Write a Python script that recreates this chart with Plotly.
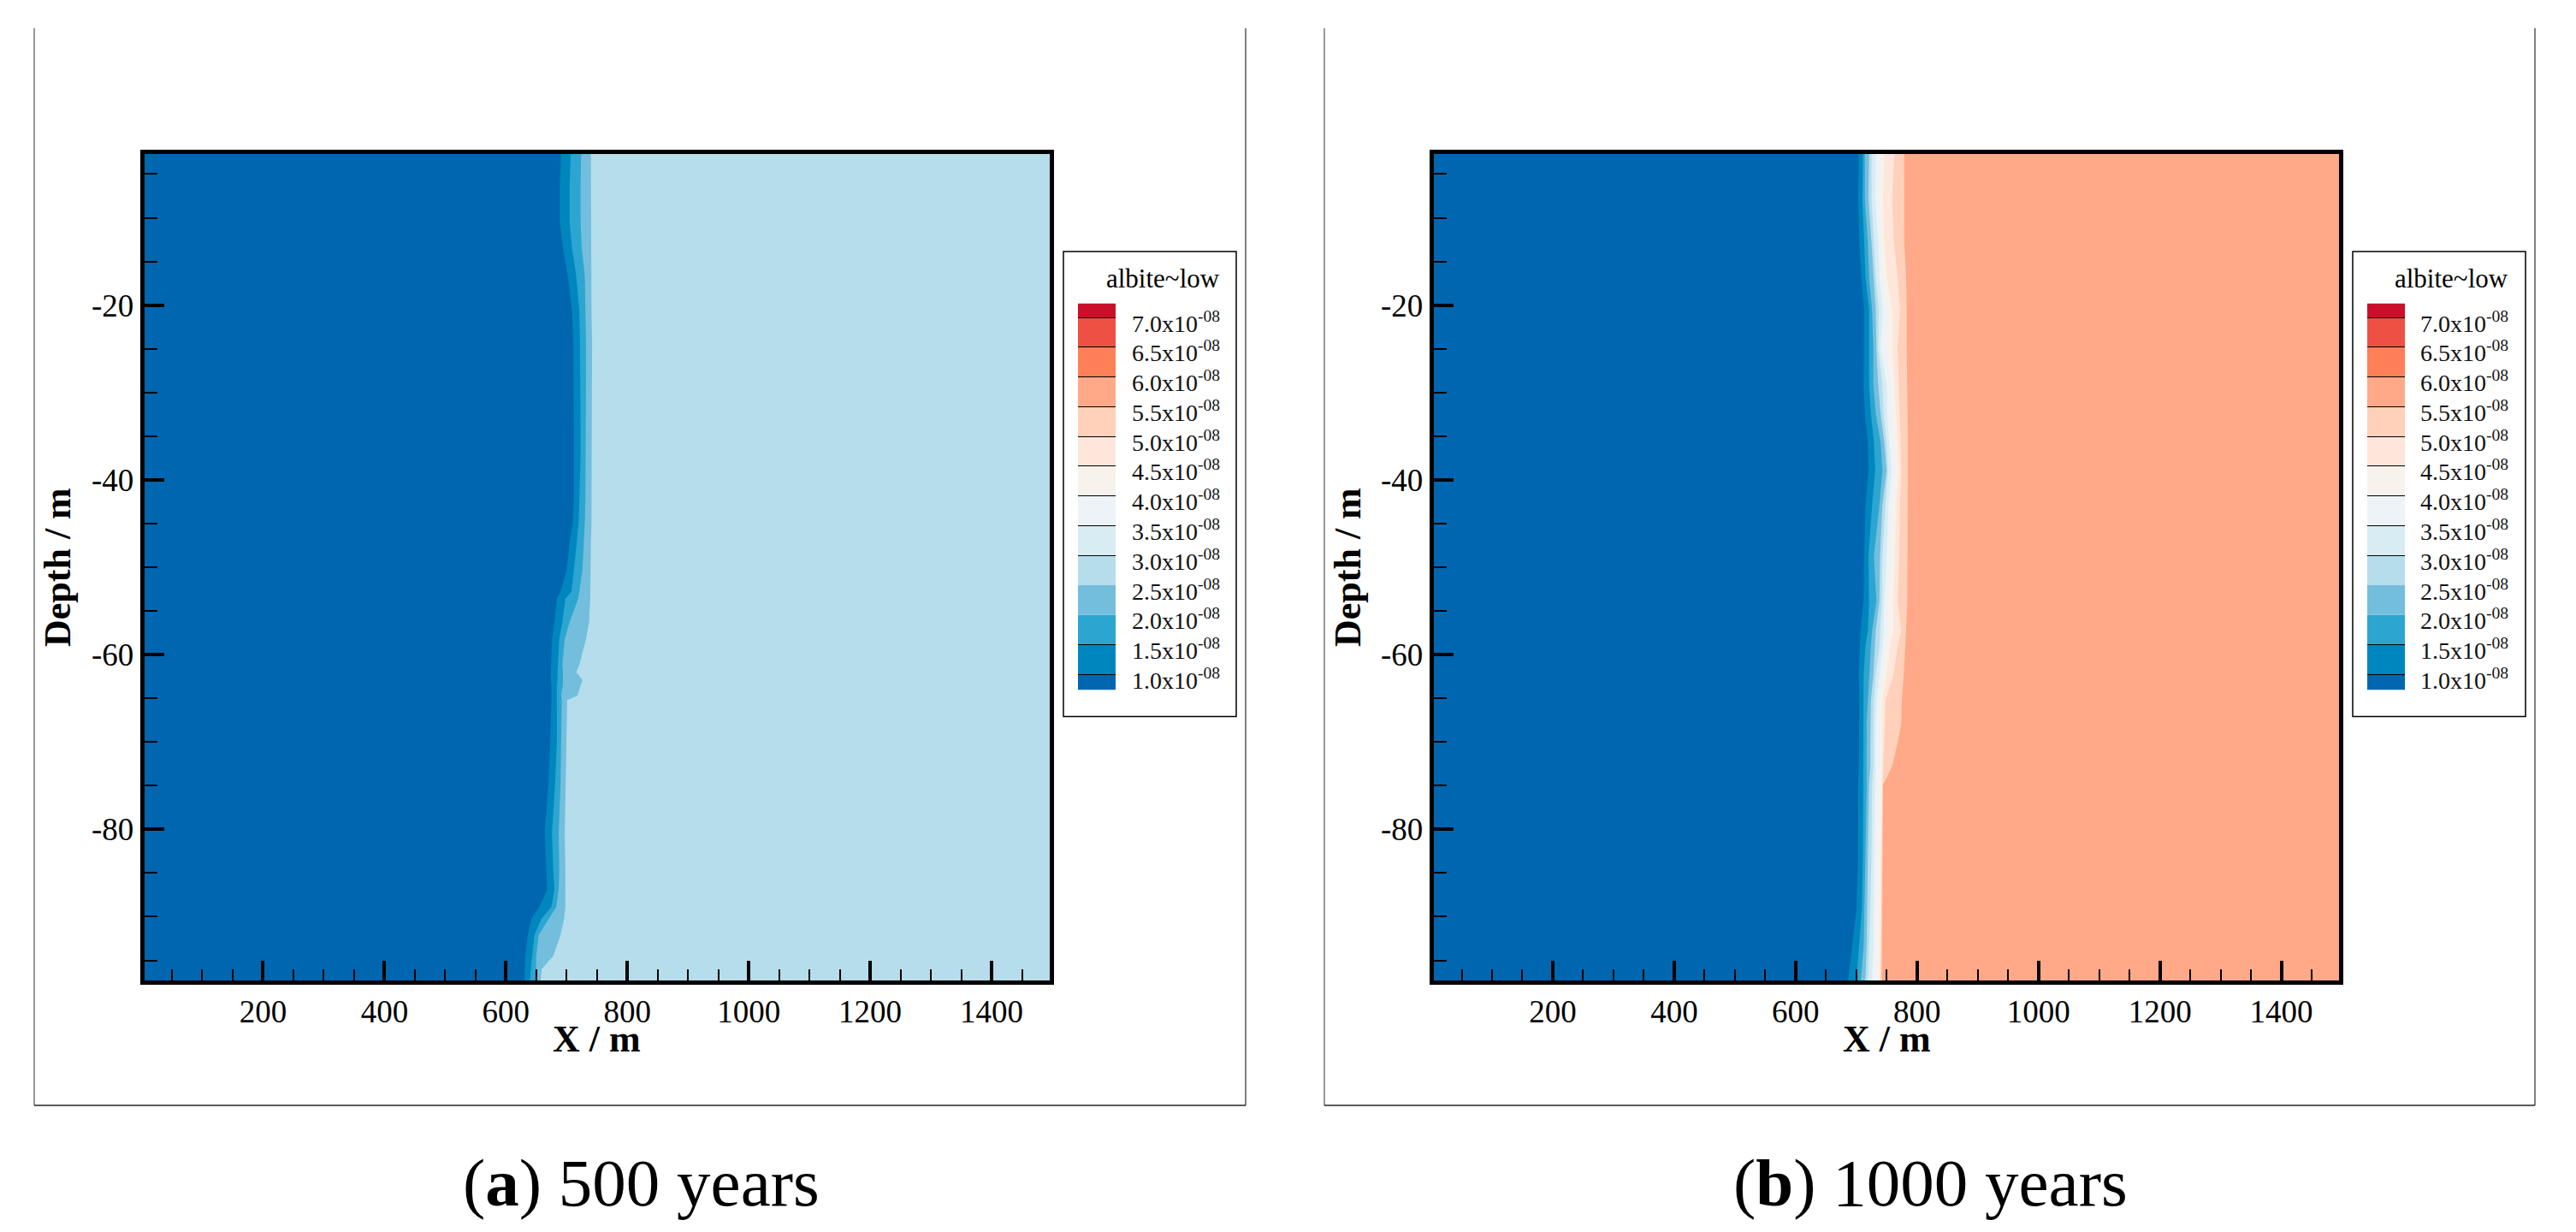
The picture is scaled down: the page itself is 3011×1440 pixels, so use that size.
import plotly.graph_objects as go

W, H = 3011, 1440

# contour levels, unit 1e-8
levels = [1.0, 1.5, 2.0, 2.5, 3.0, 3.5, 4.0, 4.5, 5.0, 5.5, 6.0, 6.5, 7.0]
level_labels = ["1.0", "1.5", "2.0", "2.5", "3.0", "3.5", "4.0", "4.5", "5.0", "5.5", "6.0", "6.5", "7.0"]
bar_low = 0.74
bar_high = 7.24
band_colors = ["#0166b0", "#0086bf", "#2ca6d0", "#74bedd", "#b6ddec", "#d8ecf3", "#edf3f6",
               "#f8f2ec", "#fee6da", "#ffd0ba", "#ffa988", "#ff8058", "#ee5044", "#ca0f2a"]

x_ticks = [200, 400, 600, 800, 1000, 1200, 1400]
y_ticks = [-20, -40, -60, -80]
y_tick_labels = ["-20", "-40", "-60", "-80"]
x_max = 1500
y_top = -2.5
y_bottom = -97.5

# panel a, front position (m) of each level at each depth
depth_a = [-2.5, -6.3, -10.5, -13.5, -16.7, -20.6, -24.2, -29.1, -34.0, -37.3, -42.2, -44.8,
           -47.7, -50.4, -52.8, -53.6, -56.3, -58.2, -61.2, -62.0, -62.9, -63.4, -64.7, -65.2,
           -70.0, -74.9, -80.4, -84.7, -86.9, -88.9, -90.2, -92.1, -94.5, -96.0, -97.5]
a_front_10 = [691, 689, 689, 694, 702, 709, 711, 712, 712, 712, 712, 710, 704, 700, 690, 684, 680, 676,
              674, 674, 674, 675, 675, 675, 673, 670, 664, 666, 668, 655, 642, 636, 632, 631, 631]
a_front_15 = [707, 705, 705, 709, 716, 721, 722, 723, 723, 723, 721, 720, 716, 712, 708, 698, 693, 688,
              685, 685, 685, 684, 684, 684, 684, 681, 676, 678, 680, 675, 659, 647, 643, 641, 640]
a_front_20 = [724, 723, 723, 725, 730, 731, 732, 732, 732, 731, 731, 730, 728, 726, 721, 719, 705, 697,
              693, 694, 694, 694, 691, 692, 691, 690, 687, 688, 687, 683, 671, 654, 650, 650, 649]
a_front_25 = [740, 740, 740, 741, 741, 741, 742, 742, 742, 742, 742, 741, 740, 740, 740, 739, 737, 732,
              721, 716, 726, 724, 718, 701, 700, 698, 697, 698, 698, 698, 696, 690, 678, 659, 657]

# panel b
depth_b = [-2.5, -7.9, -12.8, -16.7, -20.6, -24.9, -29.1, -32.4, -35.7, -38.9, -42.9, -48.7, -53.9,
           -57.3, -59.0, -62.4, -65.2, -67.9, -70.1, -72.8, -74.9, -83.1, -89.3, -93.4, -96.8, -97.5]
b_front_10 = [704, 703, 705, 708, 713, 712, 712, 714, 719, 720, 715, 713, 712,
              707, 706, 704, 705, 705, 704, 704, 703, 703, 700, 693, 687, 686]
b_front_15 = [711, 710, 713, 715, 721, 721, 721, 724, 729, 731, 726, 720, 721,
              719, 715, 712, 712, 712, 712, 712, 712, 711, 709, 705, 701, 700]
b_front_20 = [714, 714, 719, 721, 726, 728, 728, 732, 740, 743, 738, 729, 733,
              726, 724, 721, 719, 717, 717, 717, 717, 715, 713, 712, 708, 707]
b_front_25 = [721, 720, 725, 728, 732, 733, 736, 740, 746, 750, 743, 739, 738,
              732, 731, 728, 724, 723, 723, 723, 721, 719, 718, 717, 715, 714]
b_front_30 = [725, 725, 729, 732, 737, 736, 743, 745, 750, 752, 748, 743, 742,
              740, 738, 732, 729, 728, 728, 728, 726, 725, 723, 721, 719, 719]
b_front_35 = [732, 731, 736, 738, 743, 740, 750, 751, 754, 758, 753, 750, 746,
              745, 743, 738, 734, 732, 732, 732, 731, 729, 728, 728, 726, 726]
b_front_40 = [739, 738, 741, 743, 750, 749, 757, 759, 761, 764, 759, 756, 752,
              752, 750, 743, 738, 739, 739, 739, 737, 736, 734, 733, 732, 732]
b_front_45 = [746, 744, 746, 750, 759, 759, 763, 766, 768, 770, 765, 764, 761,
              761, 756, 750, 743, 743, 743, 743, 742, 740, 739, 738, 738, 738]
b_front_50 = [763, 759, 762, 768, 772, 768, 770, 772, 773, 774, 772, 771, 768,
              774, 768, 761, 748, 747, 746, 745, 743, 742, 741, 741, 740, 740]
b_front_55 = [779, 779, 779, 782, 783, 783, 784, 785, 785, 785, 785, 785, 784,
              782, 781, 778, 775, 774, 768, 759, 744, 743, 742, 742, 742, 742]

fronts_a = [a_front_10, a_front_15, a_front_20, a_front_25]
fronts_b = [b_front_10, b_front_15, b_front_20, b_front_25, b_front_30,
            b_front_35, b_front_40, b_front_45, b_front_50, b_front_55]


def px(x):
    return x / W


def py(y):
    return 1 - y / H


fig = go.Figure()


def add_field(depth, fronts, xa, ya):
    # paint from the right edge inwards, each band fills back to x=0
    n = len(fronts)
    fig.add_trace(go.Scatter(x=[x_max, x_max], y=[y_top, y_bottom], mode="lines", line_width=0,
                             fill="tozerox", fillcolor=band_colors[n], xaxis=xa, yaxis=ya,
                             hoverinfo="skip"))
    for i in range(n - 1, -1, -1):
        fig.add_trace(go.Scatter(x=fronts[i], y=depth, mode="lines", line_width=0,
                                 fill="tozerox", fillcolor=band_colors[i], xaxis=xa, yaxis=ya,
                                 hoverinfo="skip"))


def add_colorbar(xa, ya):
    edges = [bar_low] + levels + [bar_high]
    for i in range(len(band_colors)):
        fig.add_trace(go.Bar(x=[0], y=[edges[i + 1] - edges[i]], base=edges[i], width=1,
                             marker_color=band_colors[i], marker_line_width=0,
                             xaxis=xa, yaxis=ya, hoverinfo="skip"))


add_field(depth_a, fronts_a, "x", "y")
add_field(depth_b, fronts_b, "x2", "y2")
add_colorbar("x3", "y3")
add_colorbar("x4", "y4")

font = "Liberation Serif"


def main_xaxis(left, right, r0, r1, anchor):
    return dict(domain=[px(left), px(right)], range=[r0, r1], anchor=anchor, side="bottom",
                tickmode="array", tickvals=x_ticks, ticks="inside", ticklen=23, tickwidth=4,
                tickcolor="black", tickfont=dict(family=font, size=37, color="black"),
                minor=dict(ticks="inside", dtick=50, tick0=0, ticklen=13, tickwidth=1.5, tickcolor="black"),
                showline=True, linecolor="black", linewidth=4.5, mirror=True, showgrid=False, zeroline=False)


def main_yaxis(anchor):
    return dict(domain=[py(1146), py(180)], range=[-97.3, -2.7], anchor=anchor, side="left",
                tickmode="array", tickvals=y_ticks, ticktext=y_tick_labels,
                ticks="inside", ticklen=24, tickwidth=4,
                tickcolor="black", tickfont=dict(family=font, size=37, color="black"),
                minor=dict(ticks="inside", dtick=5, tick0=0, ticklen=16, tickwidth=1.5, tickcolor="black"),
                showline=True, linecolor="black", linewidth=4.5, mirror=True, showgrid=False, zeroline=False)


def bar_xaxis(left, right, anchor):
    return dict(domain=[px(left), px(right)], range=[-0.5, 0.5], anchor=anchor, visible=False)


def bar_yaxis(anchor):
    return dict(domain=[py(806.5), py(354.4)], range=[bar_low, bar_high], anchor=anchor,
                tickmode="array", tickvals=[l for l in levels if l not in (2.0, 2.5)],
                ticks="inside", ticklen=44, tickwidth=1, tickcolor="black", showticklabels=False,
                showline=False, showgrid=False, zeroline=False)


shapes = []
annotations = []


def add_panel_dressing(left, right, box_l, box_r, label_r, ya, caption, cap_x, title_x, depth_x):
    for x0, y0, x1, y1, c in [(left, 33, left, 1292, "#777777"), (right, 33, right, 1292, "#555555"),
                              (left, 1292, right, 1292, "#222222")]:
        shapes.append(dict(type="line", xref="paper", yref="paper", x0=px(x0), y0=py(y0), x1=px(x1), y1=py(y1),
                           line=dict(color=c, width=1.5)))
    shapes.append(dict(type="rect", xref="paper", yref="paper", x0=px(box_l), y0=py(294), x1=px(box_r), y1=py(837.5),
                       line=dict(color="black", width=1.5), fillcolor="rgba(0,0,0,0)"))
    annotations.append(dict(text="albite~low", xref="paper", yref="paper", x=px(label_r), y=py(326),
                            xanchor="right", yanchor="middle", showarrow=False,
                            font=dict(family=font, size=31, color="black")))
    for lev, lab in zip(levels, level_labels):
        annotations.append(dict(text=lab + "x10<sup>-08</sup>", xref="paper", yref=ya, x=px(label_r), y=lev,
                                xanchor="right", yanchor="middle", yshift=-5, showarrow=False,
                                font=dict(family=font, size=28, color="#111111")))
    annotations.append(dict(text="<b>X / m</b>", xref="paper", yref="paper", x=px(title_x), y=py(1214),
                            xanchor="center", yanchor="middle", showarrow=False,
                            font=dict(family=font, size=44, color="black")))
    annotations.append(dict(text="<b>Depth / m</b>", xref="paper", yref="paper", x=px(depth_x), y=py(663),
                            xanchor="center", yanchor="middle", textangle=-90, showarrow=False,
                            font=dict(family=font, size=44, color="black")))
    annotations.append(dict(text=caption, xref="paper", yref="paper", x=px(cap_x), y=py(1382),
                            xanchor="center", yanchor="middle", showarrow=False,
                            font=dict(family=font, size=79, color="black")))


add_panel_dressing(40, 1456, 1243, 1445, 1428, "y3", "(<b>a</b>) 500 years", 749, 697.5, 67)
add_panel_dressing(1548, 2963, 2750, 2952, 2934, "y4", "(<b>b</b>) 1000 years", 2256, 2205, 1575)

fig.update_layout(
    width=W, height=H, margin=dict(l=0, r=0, t=0, b=0), autosize=False,
    paper_bgcolor="white", plot_bgcolor="white", showlegend=False, barmode="overlay",
    xaxis=main_xaxis(168.5, 1227, 4.2, 1495.8, "y"), yaxis=main_yaxis("x"),
    xaxis2=main_xaxis(1675.5, 2734, 3.5, 1495, "y2"), yaxis2=main_yaxis("x2"),
    xaxis3=bar_xaxis(1260, 1304, "y3"), yaxis3=bar_yaxis("x3"),
    xaxis4=bar_xaxis(2767, 2811, "y4"), yaxis4=bar_yaxis("x4"),
    shapes=shapes, annotations=annotations,
)

fig.write_html("out.html", config={"displayModeBar": False},
               post_script="document.body.style.margin='0';")
